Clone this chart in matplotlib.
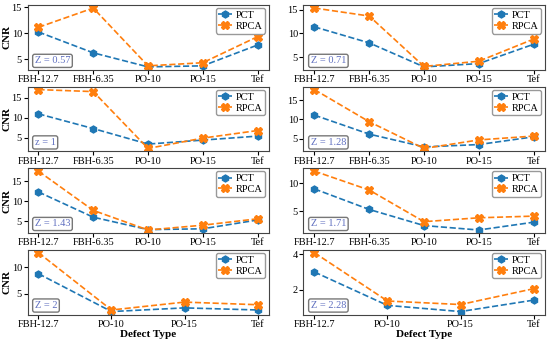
import matplotlib.pyplot as plt

plt.rcParams['font.family'] = ['Liberation Serif', 'DejaVu Serif']
plt.rcParams['font.size'] = 8

cats5 = ['FBH-12.7', 'FBH-6.35', 'PO-10', 'PO-15', 'Tef']
cats4 = ['FBH-12.7', 'PO-10', 'PO-15', 'Tef']

z_labels = ['Z = 0.57', 'Z = 0.71', 'z = 1', 'Z = 1.28', 'Z = 1.43', 'Z = 1.71', 'Z = 2', 'Z = 2.28']

pct = [
    [10.2, 6.2, 3.5, 3.7, 7.7],
    [11.4, 8.0, 2.9, 3.6, 7.7],
    [11.0, 7.3, 3.4, 4.4, 5.4],
    [11.1, 6.2, 2.9, 3.5, 5.5],
    [12.3, 6.0, 2.9, 3.1, 5.3],
    [9.0, 5.3, 2.4, 1.6, 3.0],
    [8.8, 1.6, 2.3, 1.9],
    [3.0, 1.1, 0.75, 1.4],
]
rpca = [
    [11.1, 14.8, 3.7, 4.3, 9.3],
    [15.4, 13.7, 3.0, 4.1, 8.8],
    [17.1, 16.6, 2.3, 4.9, 6.8],
    [17.7, 9.4, 2.5, 4.7, 5.7],
    [17.5, 7.7, 2.8, 4.0, 5.6],
    [12.2, 8.8, 3.1, 3.8, 4.1],
    [12.8, 1.9, 3.4, 2.9],
    [4.1, 1.35, 1.15, 2.05],
]

fig, axes = plt.subplots(4, 2, figsize=(5.5, 3.4), dpi=100)
plt.subplots_adjust(left=0.05, right=0.99, top=0.985, bottom=0.075, hspace=0.26, wspace=0.145)

for i, ax in enumerate(axes.flat):
    cats = cats5 if len(pct[i]) == 5 else cats4
    ax.plot(cats, pct[i], '--', marker='h', color='#1f77b4', markersize=5, lw=1.2, label='PCT')
    ax.plot(cats, rpca[i], '--', marker='X', color='#ff7f0e', markersize=5.5, lw=1.2, label='RPCA')
    ax.legend(loc='upper right', fontsize=7.5, handlelength=1.3, borderpad=0.25,
              labelspacing=0.15, handletextpad=0.4, borderaxespad=0.3,
              framealpha=1, edgecolor='#999999')
    ax.text(0.03, 0.1, z_labels[i], transform=ax.transAxes, color='#6070c0', fontsize=7.5,
            bbox=dict(boxstyle='round,pad=0.2', fc='white', ec='#777777', lw=1))
    ax.tick_params(labelsize=7.5, length=3, pad=1)
    for s in ax.spines.values():
        s.set_color('#444444')
    if i % 2 == 0:
        ax.set_ylabel('CNR', fontweight='bold', fontsize=8, labelpad=0)
    if i >= 6:
        ax.set_xlabel('Defect Type', fontweight='bold', fontsize=8, labelpad=1)

plt.savefig('out.png')
